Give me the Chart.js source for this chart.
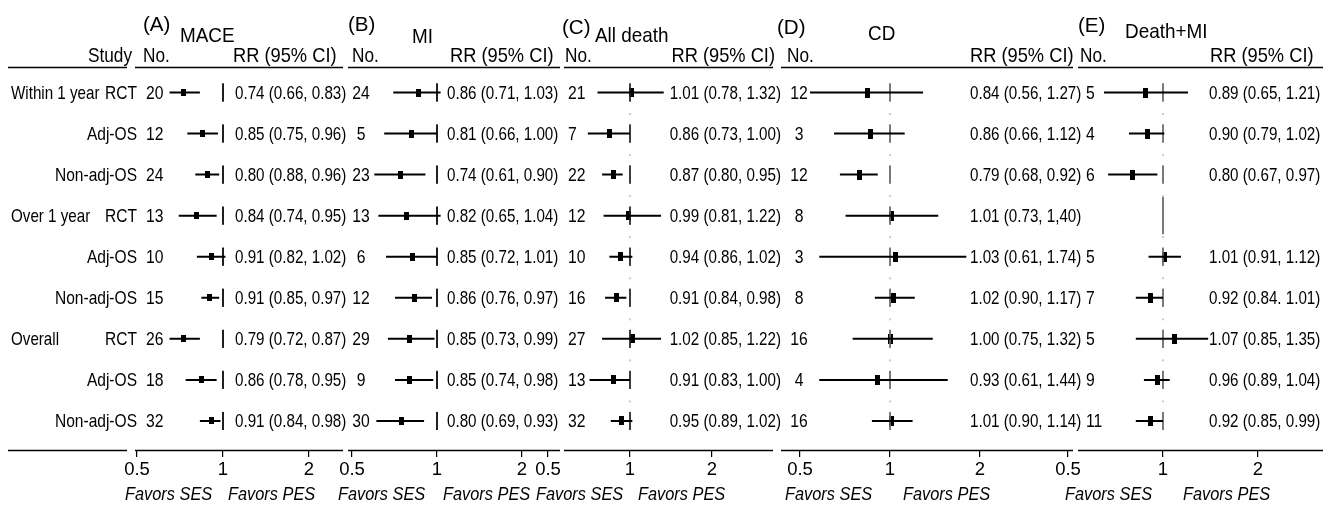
<!DOCTYPE html>
<html>
<head>
<meta charset="utf-8">
<script src="https://cdn.jsdelivr.net/npm/chart.js@4.4.1/dist/chart.umd.min.js"></script>
<style>
  body { margin: 0; background: #fff; }
  #wrap { position: relative; width: 1330px; height: 505px; background: #fff; }
  #wrap canvas { position: absolute; left: 0; top: 0; }
</style>
</head>
<body>
<div id="wrap">
  <canvas id="cA" width="1330" height="505"></canvas>
  <canvas id="cB" width="1330" height="505"></canvas>
  <canvas id="cC" width="1330" height="505"></canvas>
  <canvas id="cD" width="1330" height="505"></canvas>
  <canvas id="cE" width="1330" height="505"></canvas>
</div>
<script>
// rows of the table
var rowGroups = ["Within 1 year", "", "", "Over 1 year", "", "", "Overall", "", ""];
var rowTypes = ["RCT", "Adj-OS", "Non-adj-OS", "RCT", "Adj-OS", "Non-adj-OS", "RCT", "Adj-OS", "Non-adj-OS"];
var tickValues = [0.5, 1, 2];
var tickLabels = ["0.5", "1", "2"];

// (A) MACE
var maceNo = [20, 12, 24, 13, 10, 15, 26, 18, 32];
var maceRR = [0.73, 0.85, 0.88, 0.81, 0.91, 0.90, 0.73, 0.84, 0.91];
var maceLo = [0.65, 0.75, 0.80, 0.70, 0.81, 0.84, 0.65, 0.74, 0.83];
var maceHi = [0.83, 0.96, 0.97, 0.95, 1.02, 0.97, 0.83, 0.95, 0.98];
var maceText = ["0.74 (0.66, 0.83)", "0.85 (0.75, 0.96)", "0.80 (0.88, 0.96)", "0.84 (0.74, 0.95)", "0.91 (0.82, 1.02)",
                "0.91 (0.85, 0.97)", "0.79 (0.72, 0.87)", "0.86 (0.78, 0.95)", "0.91 (0.84, 0.98)"];

// (B) MI
var miNo = [24, 5, 23, 13, 6, 12, 29, 9, 30];
var miRR = [0.86, 0.81, 0.74, 0.78, 0.82, 0.83, 0.80, 0.80, 0.75];
var miLo = [0.70, 0.65, 0.60, 0.62, 0.66, 0.71, 0.67, 0.71, 0.61];
var miHi = [1.03, 1.00, 0.91, 1.03, 1.00, 0.96, 0.98, 0.97, 0.90];
var miText = ["0.86 (0.71, 1.03)", "0.81 (0.66, 1.00)", "0.74 (0.61, 0.90)", "0.82 (0.65, 1.04)", "0.85 (0.72, 1.01)",
              "0.86 (0.76, 0.97)", "0.85 (0.73, 0.99)", "0.85 (0.74, 0.98)", "0.80 (0.69, 0.93)"];

// (C) All death
var deathNo = [21, 7, 22, 12, 10, 16, 27, 13, 32];
var deathRR = [1.01, 0.84, 0.87, 0.99, 0.92, 0.89, 1.02, 0.87, 0.93];
var deathLo = [0.76, 0.70, 0.79, 0.80, 0.84, 0.81, 0.79, 0.71, 0.85];
var deathHi = [1.33, 1.00, 0.94, 1.30, 1.02, 0.97, 1.30, 1.00, 1.02];
var deathText = ["1.01 (0.78, 1.32)", "0.86 (0.73, 1.00)", "0.87 (0.80, 0.95)", "0.99 (0.81, 1.22)", "0.94 (0.86, 1.02)",
                 "0.91 (0.84, 0.98)", "1.02 (0.85, 1.22)", "0.91 (0.83, 1.00)", "0.95 (0.89, 1.02)"];

// (D) CD
var cdNo = [12, 3, 12, 8, 3, 8, 16, 4, 16];
var cdRR = [0.84, 0.86, 0.79, 1.01, 1.04, 1.03, 1.00, 0.91, 1.01];
var cdLo = [0.54, 0.65, 0.68, 0.71, 0.58, 0.89, 0.75, 0.58, 0.87];
var cdHi = [1.29, 1.12, 0.91, 1.45, 1.80, 1.21, 1.39, 1.56, 1.19];
var cdText = ["0.84 (0.56, 1.27)", "0.86 (0.66, 1.12)", "0.79 (0.68, 0.92)", "1.01 (0.73, 1,40)", "1.03 (0.61, 1.74)",
              "1.02 (0.90, 1.17)", "1.00 (0.75, 1.32)", "0.93 (0.61, 1.44)", "1.01 (0.90, 1.14)"];

// (E) Death+MI  (no estimate for over 1 year RCT)
var dmiNo = [5, 4, 6, null, 5, 7, 5, 9, 11];
var dmiRR = [0.88, 0.89, 0.80, null, 1.01, 0.91, 1.09, 0.96, 0.91];
var dmiLo = [0.65, 0.78, 0.67, null, 0.90, 0.82, 0.82, 0.87, 0.82];
var dmiHi = [1.20, 1.01, 0.96, null, 1.14, 1.00, 1.39, 1.05, 1.00];
var dmiText = ["0.89 (0.65, 1.21)", "0.90 (0.79, 1.02)", "0.80 (0.67, 0.97)", "", "1.01 (0.91, 1.12)",
               "0.92 (0.84. 1.01)", "1.07 (0.85, 1.35)", "0.96 (0.89, 1.04)", "0.92 (0.85, 0.99)"];

var FONT = "'Liberation Sans', Arial, sans-serif";
var W = 1330, H = 505;
var rules = [[8, 127], [135, 343], [348, 560], [564, 773], [781, 1073], [1078, 1323]];

// layout of each panel (pixel positions only)
var panels = [
  { id: "cA", letter: "(A)", title: "MACE", no: maceNo, rr: maceRR, lo: maceLo, hi: maceHi, txt: maceText,
    one: 223, dbl: 86, sq: [5, 7], nullCol: "#000", dots: false,
    letterX: 143, letterY: 31, titleX: 180, titleY: 42, noHdrX: 143, rrHdrX: 233, rrHdrAlign: "left",
    noX: 146, noAlign: "left", rrX: 235, rrAlign: "left", favSes: 125, favPes: 228 },
  { id: "cB", letter: "(B)", title: "MI", no: miNo, rr: miRR, lo: miLo, hi: miHi, txt: miText,
    one: 437, dbl: 85, sq: [5, 8], nullCol: "#000", dots: false,
    letterX: 348, letterY: 31, titleX: 412, titleY: 43, noHdrX: 352, rrHdrX: 450, rrHdrAlign: "left",
    noX: 361, noAlign: "center", rrX: 447, rrAlign: "left", favSes: 338, favPes: 443 },
  { id: "cC", letter: "(C)", title: "All death", no: deathNo, rr: deathRR, lo: deathLo, hi: deathHi, txt: deathText,
    one: 630, dbl: 82, sq: [5, 9], nullCol: "#222", dots: true,
    letterX: 562, letterY: 34, titleX: 595, titleY: 42, noHdrX: 565, rrHdrX: 775, rrHdrAlign: "right",
    noX: 568, noAlign: "left", rrX: 781, rrAlign: "right", favSes: 536, favPes: 638 },
  { id: "cD", letter: "(D)", title: "CD", no: cdNo, rr: cdRR, lo: cdLo, hi: cdHi, txt: cdText,
    one: 890, dbl: 90, sq: [5, 10], nullCol: "#666", dots: true,
    letterX: 777, letterY: 34, titleX: 868, titleY: 40, noHdrX: 787, rrHdrX: 970, rrHdrAlign: "left",
    noX: 799, noAlign: "center", rrX: 970, rrAlign: "left", favSes: 785, favPes: 903 },
  { id: "cE", letter: "(E)", title: "Death+MI", no: dmiNo, rr: dmiRR, lo: dmiLo, hi: dmiHi, txt: dmiText,
    one: 1163, dbl: 95, sq: [5, 10], nullCol: "#666", dots: true,
    letterX: 1078, letterY: 32, titleX: 1125, titleY: 38, noHdrX: 1080, rrHdrX: 1210, rrHdrAlign: "left",
    noX: 1086, noAlign: "left", rrX: 1209, rrAlign: "left", favSes: 1065, favPes: 1183 }
];

// condensed text helper
function txt(ctx, s, x, y, align, font, sx, base) {
  ctx.save();
  ctx.font = font;
  ctx.fillStyle = "#000";
  ctx.textBaseline = base || "alphabetic";
  ctx.textAlign = "left";
  var w = ctx.measureText(s).width * sx;
  var x0 = align === "right" ? x - w : (align === "center" ? x - w / 2 : x);
  ctx.translate(x0, y);
  ctx.scale(sx, 1);
  ctx.fillText(s, 0, 0);
  ctx.restore();
}

var bodyFont = "18.5px " + FONT, hdrFont = "21px " + FONT, favFont = "italic 19px " + FONT;

function makePanel(p, first) {
  var ci = [], nul = [], pts = [];
  for (var i = 0; i < rowTypes.length; i++) {
    var r = i + 1;
    if (p.rr[i] != null) {
      ci.push({ x: p.lo[i], y: r }, { x: p.hi[i], y: r }, { x: null, y: null });
      pts.push({ x: p.rr[i], y: r });
      nul.push({ x: 1, y: r - 0.22 }, { x: 1, y: r + 0.22 }, { x: null, y: null });
    } else {
      nul.push({ x: 1, y: r - 0.45 }, { x: 1, y: r + 0.45 }, { x: null, y: null });
    }
  }
  var sq = document.createElement("canvas");
  sq.width = p.sq[0]; sq.height = p.sq[1];
  var sctx = sq.getContext("2d");
  sctx.fillStyle = "#000";
  sctx.fillRect(0, 0, sq.width, sq.height);

  var left = p.one - 1.2 * p.dbl, right = p.one + 1.4 * p.dbl;

  var datasets = [
    { data: ci, showLine: true, borderColor: "#000", borderWidth: 2, pointRadius: 0, spanGaps: false },
    { data: nul, showLine: true, borderColor: p.nullCol, borderWidth: 1, pointRadius: 0, spanGaps: false },
    { data: pts, showLine: false, pointStyle: sq, pointRadius: 4, backgroundColor: "#000", borderWidth: 0 }
  ];
  if (p.dots) {
    datasets.push({ data: [{ x: 1, y: 1.5 }, { x: 1, y: 9.5 }], showLine: true, borderColor: "#999",
                    borderWidth: 1, borderDash: [2, 39.06], pointRadius: 0 });
  }

  var textPlugin = {
    id: "tableText",
    afterDraw: function(chart) {
      var ctx = chart.ctx, ys = chart.scales.y;
      if (first) {
        // table rules
        ctx.save();
        ctx.strokeStyle = "#000";
        ctx.lineWidth = 1.3;
        rules.forEach(function(rl) {
          ctx.beginPath(); ctx.moveTo(rl[0], 67.5); ctx.lineTo(rl[1], 67.5); ctx.stroke();
          ctx.beginPath(); ctx.moveTo(rl[0], 450.5); ctx.lineTo(rl[1], 450.5); ctx.stroke();
        });
        ctx.restore();
        txt(ctx, "Study", 132, 62, "right", hdrFont, 0.82);
        for (var k = 0; k < rowTypes.length; k++) {
          var yy = ys.getPixelForValue(k + 1) + 1;
          if (rowGroups[k]) txt(ctx, rowGroups[k], 11, yy, "left", bodyFont, 0.82, "middle");
          txt(ctx, rowTypes[k], 137, yy, "right", bodyFont, 0.84, "middle");
        }
      }
      txt(ctx, p.letter, p.letterX, p.letterY, "left", hdrFont, 0.98);
      txt(ctx, p.title, p.titleX, p.titleY, "left", hdrFont, 0.9);
      txt(ctx, "No.", p.noHdrX, 62, "left", hdrFont, 0.82);
      txt(ctx, "RR (95% CI)", p.rrHdrX, 62, p.rrHdrAlign, hdrFont, 0.87);
      for (var j = 0; j < rowTypes.length; j++) {
        var y = ys.getPixelForValue(j + 1) + 1;
        if (p.no[j] != null) txt(ctx, String(p.no[j]), p.noX, y, p.noAlign, bodyFont, 0.85, "middle");
        if (p.txt[j]) txt(ctx, p.txt[j], p.rrX, y, p.rrAlign, bodyFont, 0.82, "middle");
      }
      txt(ctx, "Favors SES", p.favSes, 500, "left", favFont, 0.86);
      txt(ctx, "Favors PES", p.favPes, 500, "left", favFont, 0.86);
    }
  };

  return new Chart(document.getElementById(p.id), {
    type: "scatter",
    data: { datasets: datasets },
    options: {
      responsive: false,
      animation: false,
      devicePixelRatio: 1,
      events: [],
      layout: { padding: { left: left, right: W - right, top: 70, bottom: 10 } },
      plugins: { legend: { display: false }, tooltip: { enabled: false } },
      scales: {
        x: {
          type: "logarithmic",
          bounds: "data",
          min: Math.pow(2, -1.2),
          max: Math.pow(2, 1.4),
          afterBuildTicks: function(s) { s.ticks = tickValues.map(function(v) { return { value: v }; }); },
          afterFit: function(s) { s.height = 45; },
          ticks: {
            autoSkip: false, maxRotation: 0, padding: 2, color: "#000",
            font: { family: FONT, size: 18.5 },
            callback: function(v, i) { return tickLabels[i]; }
          },
          grid: { drawOnChartArea: false, drawTicks: true, tickLength: 7, color: "#000", lineWidth: 1.2 },
          border: { display: false }
        },
        y: { type: "linear", reverse: true, min: 0.452, max: 9.707, display: false }
      }
    },
    plugins: [textPlugin]
  });
}

for (var n = 0; n < panels.length; n++) {
  makePanel(panels[n], n === 0);
}
</script>
</body>
</html>
